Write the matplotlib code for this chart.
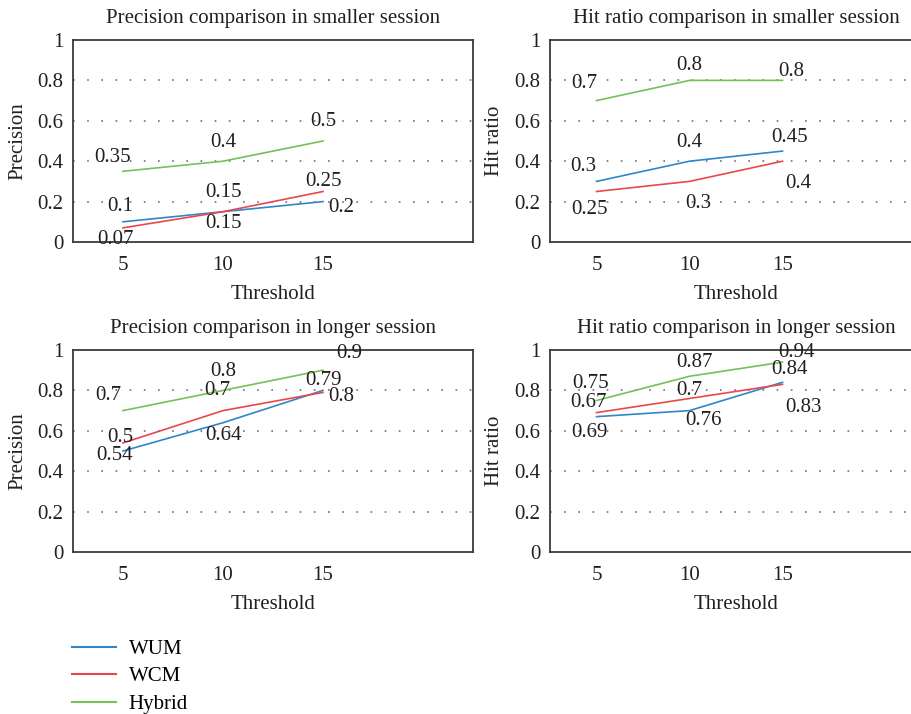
import matplotlib
matplotlib.use("Agg")
import matplotlib.pyplot as plt
from matplotlib.lines import Line2D

# -----------------------------
# Data
# -----------------------------
thresholds = ["5", "10", "15"]
series_names = ["WUM", "WCM", "Hybrid"]

prec_small_wum = [0.1, 0.15, 0.2]
prec_small_wcm = [0.07, 0.15, 0.25]
prec_small_hybrid = [0.35, 0.4, 0.5]

hit_small_wum = [0.3, 0.4, 0.45]
hit_small_wcm = [0.25, 0.3, 0.4]
hit_small_hybrid = [0.7, 0.8, 0.8]

prec_long_wum = [0.5, 0.64, 0.8]
prec_long_wcm = [0.54, 0.7, 0.79]
prec_long_hybrid = [0.7, 0.8, 0.9]

hit_long_wum = [0.67, 0.7, 0.84]
hit_long_wcm = [0.69, 0.76, 0.83]
hit_long_hybrid = [0.75, 0.87, 0.94]

y_ticks = [0, 0.2, 0.4, 0.6, 0.8, 1]
y_tick_labels = ["0", "0.2", "0.4", "0.6", "0.8", "1"]

# -----------------------------
# Styling
# -----------------------------
COLORS = {"WUM": "#2f86c8", "WCM": "#e8484c", "Hybrid": "#76c05a"}
FONT = "Liberation Serif"
FS = 15
TXT = "#231f20"

plt.rcParams["font.family"] = [FONT, "DejaVu Serif"]
plt.rcParams["font.size"] = FS

# label offsets (pixels, x right / y up) per panel, per series, per point
OFFSETS = {
    "ps": {"WUM": [(-3, 15), (0, 19), (18, -6)],
           "WCM": [(-8, -12), (1, -12), (1, 10)],
           "Hybrid": [(-10, 14), (0, 19), (0, 19)]},
    "hs": {"WUM": [(-13, 15), (0, 19), (7, 14)],
           "WCM": [(-7, -18), (9, -22), (16, -22)],
           "Hybrid": [(-12, 17), (0, 15), (9, 9)]},
    "pl": {"WUM": [(-3, 14), (1, -13), (18, -6)],
           "WCM": [(-8, -13), (-6, 20), (1, 12)],
           "Hybrid": [(-15, 15), (0, 19), (26, 17)]},
    "hl": {"WUM": [(-8, 14), (0, 20), (7, 13)],
           "WCM": [(-7, -20), (14, -22), (21, -23)],
           "Hybrid": [(-6, 17), (5, 14), (14, 10)]},
}


def draw_panel(ax, title, ylabel, data, key, right_open=False):
    x = list(range(len(thresholds)))
    for name, vals in zip(series_names, data):
        ax.plot(x, vals, color=COLORS[name], lw=1.2, zorder=3)
        for xi, v, off in zip(x, vals, OFFSETS[key][name]):
            ax.annotate(f"{v:g}", (xi, v), xytext=off, textcoords="offset pixels",
                        ha="center", va="center", fontsize=FS, color=TXT, zorder=4)
    ax.set_xlim(-0.5, 3.5)
    ax.set_ylim(0, 1)
    ax.set_xticks(x)
    ax.set_xticklabels(thresholds)
    ax.set_yticks(y_ticks)
    ax.set_yticklabels(y_tick_labels)
    ax.tick_params(axis="both", length=0, colors=TXT, labelsize=FS)
    ax.tick_params(axis="x", pad=10)
    ax.tick_params(axis="y", pad=7)
    for yv in y_ticks[1:-1]:
        ax.axhline(yv, color="#707070", lw=1.2, ls=(0, (1, 7.5)), zorder=1)
    for sp in ax.spines.values():
        sp.set_color("#3a3a3a")
        sp.set_linewidth(1.3)
    if right_open:
        ax.spines["right"].set_visible(False)
    ax.set_title(title, fontsize=FS, pad=12.5, color=TXT)
    ax.set_xlabel("Threshold", fontsize=FS, labelpad=7, color=TXT)
    ax.set_ylabel(ylabel, fontsize=FS, labelpad=7, color=TXT)


fig = plt.figure(figsize=(9.11, 7.14), dpi=100)
W, H = 911, 714

def px_axes(left, top, width, height):
    return fig.add_axes([left / W, 1 - (top + height) / H, width / W, height / H])

# right-hand panels run past the page edge, as in the source figure
ax1 = px_axes(73, 40, 400, 202)
ax2 = px_axes(550, 40, 372, 202)
ax3 = px_axes(73, 350, 400, 202)
ax4 = px_axes(550, 350, 372, 202)

draw_panel(ax1, "Precision comparison in smaller session", "Precision",
           [prec_small_wum, prec_small_wcm, prec_small_hybrid], "ps")
draw_panel(ax2, "Hit ratio comparison in smaller session", "Hit ratio",
           [hit_small_wum, hit_small_wcm, hit_small_hybrid], "hs", right_open=True)
draw_panel(ax3, "Precision comparison in longer session", "Precision",
           [prec_long_wum, prec_long_wcm, prec_long_hybrid], "pl")
draw_panel(ax4, "Hit ratio comparison in longer session", "Hit ratio",
           [hit_long_wum, hit_long_wcm, hit_long_hybrid], "hl", right_open=True)

handles = [Line2D([], [], color=COLORS[n], lw=1.5) for n in series_names]
fig.legend(handles, series_names, loc="upper left", bbox_to_anchor=(64 / W, 1 - 631 / H),
           frameon=False, fontsize=FS, handlelength=2.1, handletextpad=0.6,
           labelspacing=0.38, borderaxespad=0)

fig.savefig("out.png", dpi=100)
